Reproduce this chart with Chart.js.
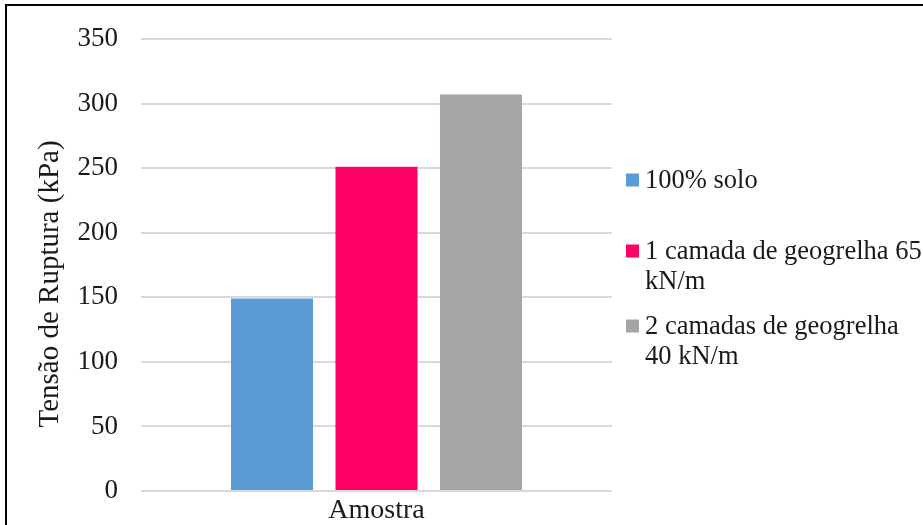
<!DOCTYPE html>
<html lang="pt">
<head>
<meta charset="utf-8">
<title>Tensão de Ruptura</title>
<script src="https://cdn.jsdelivr.net/npm/chart.js@4.4.1/dist/chart.umd.min.js"></script>
<style>
  html, body { margin: 0; padding: 0; background: #ffffff; }
  #wrap { width: 923px; height: 525px; position: relative; overflow: hidden; }
</style>
</head>
<body>
<div id="wrap"><canvas id="chart" width="923" height="525"></canvas></div>
<script>
// Ruptura stress per sample configuration
const categories = ['Amostra'];
const seriesNames = ['100% solo', '1 camada de geogrelha 65 kN/m', '2 camadas de geogrelha 40 kN/m'];
const legendLines = [
  ['100% solo'],
  ['1 camada de geogrelha 65', 'kN/m'],
  ['2 camadas de geogrelha', '40 kN/m']
];
const seriesValues = [149, 251, 307];
const seriesColors = ['#5b9bd5', '#ff0066', '#a5a5a5'];
const yTicks = [0, 50, 100, 150, 200, 250, 300, 350];
const yTitle = 'Tensão de Ruptura (kPa)';

const FONT = '"Liberation Serif", "Times New Roman", serif';
const TEXT_COLOR = '#1a1a1a';

// Frame line along the top and left edges
const framePlugin = {
  id: 'frame',
  beforeDraw(chart) {
    const ctx = chart.ctx;
    ctx.save();
    ctx.fillStyle = '#ffffff';
    ctx.fillRect(0, 0, chart.width, chart.height);
    ctx.strokeStyle = '#000000';
    ctx.lineWidth = 2;
    ctx.beginPath();
    ctx.moveTo(6, chart.height);
    ctx.lineTo(6, 5);
    ctx.lineTo(chart.width, 5);
    ctx.stroke();
    ctx.restore();
  }
};

// Vertical value-axis title
const yTitlePlugin = {
  id: 'yTitle',
  afterDraw(chart) {
    const ctx = chart.ctx;
    ctx.save();
    ctx.translate(50, 284);
    ctx.rotate(-Math.PI / 2);
    ctx.font = '29px ' + FONT;
    ctx.fillStyle = TEXT_COLOR;
    ctx.textAlign = 'center';
    ctx.textBaseline = 'middle';
    ctx.fillText(yTitle, 0, 0);
    ctx.restore();
  }
};

// Legend on the right with wrapped entries
const sideLegendPlugin = {
  id: 'sideLegend',
  afterDraw(chart) {
    const ctx = chart.ctx;
    const boxX = 626, textX = 645, box = 13, lineGap = 30;
    const firstLineY = [181, 252, 327];
    ctx.save();
    ctx.font = '26.5px ' + FONT;
    ctx.textAlign = 'left';
    ctx.textBaseline = 'middle';
    chart.data.datasets.forEach((ds, i) => {
      const y0 = firstLineY[i];
      ctx.fillStyle = ds.backgroundColor;
      ctx.fillRect(boxX, y0 - box / 2 - 1, box, box);
      ctx.fillStyle = TEXT_COLOR;
      legendLines[i].forEach((line, k) => {
        ctx.fillText(line, textX, y0 + k * lineGap);
      });
    });
    ctx.restore();
  }
};

new Chart(document.getElementById('chart'), {
  type: 'bar',
  data: {
    labels: categories,
    datasets: seriesNames.map((name, i) => ({
      label: name,
      data: [seriesValues[i]],
      backgroundColor: seriesColors[i],
      borderWidth: 0,
      categoryPercentage: 0.6656,
      barPercentage: 0.785
    }))
  },
  options: {
    responsive: false,
    animation: false,
    devicePixelRatio: 1,
    layout: { padding: { left: 0, top: 39, right: 311, bottom: 0 } },
    plugins: {
      legend: { display: false },
      tooltip: { enabled: false },
      title: { display: false }
    },
    scales: {
      x: {
        grid: { display: false, drawTicks: false },
        border: { display: false },
        ticks: {
          font: { family: FONT, size: 28 },
          color: TEXT_COLOR,
          padding: 3
        },
        afterFit(scale) { scale.height = 34; }
      },
      y: {
        min: 0,
        max: 350,
        afterBuildTicks(scale) { scale.ticks = yTicks.map(v => ({ value: v })); },
        grid: { color: '#d9d9d9', lineWidth: 2, drawTicks: false },
        border: { display: false },
        ticks: {
          font: { family: FONT, size: 27 },
          color: TEXT_COLOR,
          padding: 23
        },
        afterFit(scale) {
          scale.width = 141;
          scale.paddingBottom = 0;
          scale.paddingTop = 0;
        }
      }
    }
  },
  plugins: [framePlugin, yTitlePlugin, sideLegendPlugin]
});
</script>
</body>
</html>
